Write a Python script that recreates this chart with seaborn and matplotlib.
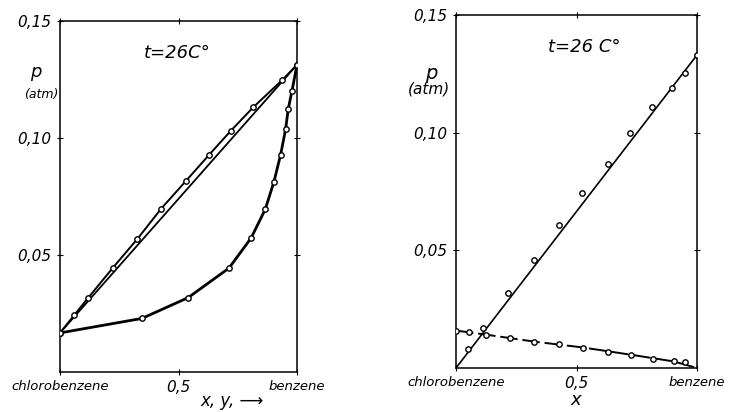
import numpy as np
import pandas as pd
import matplotlib
matplotlib.use('Agg')
import matplotlib.pyplot as plt
import seaborn as sns

# left panel: total vapour pressure, liquid (x) and vapour (y) composition
liquid_x = [0.0, 0.059, 0.119, 0.222, 0.326, 0.427, 0.530, 0.629, 0.720, 0.816, 0.937, 1.0]
liquid_p = [0.0167, 0.0242, 0.0317, 0.0444, 0.0568, 0.0698, 0.0815, 0.0928, 0.1030, 0.1132, 0.1247, 0.1313]
vapour_y = [0.0, 0.346, 0.541, 0.713, 0.806, 0.866, 0.903, 0.931, 0.952, 0.963, 0.979, 1.0]
vapour_p = [0.0167, 0.0229, 0.0318, 0.0444, 0.0572, 0.0695, 0.0814, 0.0929, 0.1038, 0.1124, 0.1202, 0.1313]
raoult_x = [0.0, 1.0]
raoult_p = [0.0167, 0.1313]

# right panel: partial pressures
benzene_x = [0.050, 0.112, 0.216, 0.323, 0.427, 0.523, 0.630, 0.724, 0.813, 0.897, 0.949, 1.0]
benzene_p = [0.0081, 0.0170, 0.0317, 0.0461, 0.0606, 0.0742, 0.0868, 0.1000, 0.1110, 0.1189, 0.1255, 0.1329]
benzene_line_x = [0.0, 1.0]
benzene_line_p = [0.0, 0.133]
chloro_x = [0.0, 0.053, 0.123, 0.224, 0.325, 0.429, 0.528, 0.630, 0.728, 0.817, 0.903, 0.951]
chloro_p = [0.0159, 0.0152, 0.0142, 0.0129, 0.0112, 0.0102, 0.0087, 0.0070, 0.0056, 0.0040, 0.0028, 0.0024]
chloro_line_x = [0.0, 0.123, 0.325, 0.528, 0.728, 0.903, 1.0]
chloro_line_p = [0.0159, 0.0142, 0.0112, 0.0087, 0.0056, 0.0028, 0.0]

x_ticks = [0.0, 0.5, 1.0]
x_ticklabels = ['chlorobenzene', '0,5', 'benzene']
y_ticks = [0.05, 0.10, 0.15]
y_ticklabels = ['0,05', '0,10', '0,15']

sns.set_style('ticks')
plt.rcParams['font.family'] = ['DejaVu Sans']
plt.rcParams['font.style'] = 'italic'
plt.rcParams['text.color'] = 'black'
plt.rcParams['axes.labelcolor'] = 'black'
plt.rcParams['xtick.color'] = 'black'
plt.rcParams['ytick.color'] = 'black'

MARK = dict(s=15, facecolor='white', edgecolor='black', linewidth=1.0, zorder=4, legend=False)


def style_axes(ax):
    '''
    Common frame, limits and tick labels of both panels
    '''
    ax.set_xlim(0, 1)
    ax.set_ylim(0, 0.15)
    ax.set_xticks(x_ticks)
    ax.set_xticklabels(x_ticklabels)
    ax.set_yticks(y_ticks)
    ax.set_yticklabels(y_ticklabels, fontsize=11)
    for lab in ax.get_xticklabels():
        lab.set_fontsize(11 if lab.get_text() == '0,5' else 9.5)
    ax.tick_params(direction='inout', length=4, width=0.8, top=True, right=True,
                   colors='black', labelcolor='black', pad=4)
    for sp in ax.spines.values():
        sp.set_visible(True)
        sp.set_linewidth(1.1)
        sp.set_color('black')
    ax.set_ylabel('')


fig = plt.figure(figsize=(7.3, 4.12), dpi=100)
ax1 = fig.add_axes([60 / 730, 40 / 412, 237 / 730, 351 / 412])
ax2 = fig.add_axes([456 / 730, 44 / 412, 241 / 730, 353 / 412])

# left panel
sns.lineplot(x=raoult_x, y=raoult_p, ax=ax1, color='black', lw=1.3)
sns.lineplot(x=liquid_x, y=liquid_p, ax=ax1, color='black', lw=1.4)
sns.lineplot(x=vapour_y, y=vapour_p, ax=ax1, color='black', lw=2.0)
sns.scatterplot(x=liquid_x, y=liquid_p, ax=ax1, **MARK)
sns.scatterplot(x=vapour_y, y=vapour_p, ax=ax1, **MARK)
style_axes(ax1)
ax1.set_xlabel('x, y, \u27f6', fontsize=12)
ax1.xaxis.set_label_coords(0.725, -0.083)
ax1.xaxis.label.set_verticalalignment('center')
ax1.text(0.496, 0.909, 't=26C°', transform=ax1.transAxes, ha='center', va='center', fontsize=13)
ax1.text(-0.104, 0.855, 'p', transform=ax1.transAxes, ha='center', va='center', fontsize=13)
ax1.text(-0.08, 0.792, '(atm)', transform=ax1.transAxes, ha='center', va='center', fontsize=9)

# right panel
sns.lineplot(x=benzene_line_x, y=benzene_line_p, ax=ax2, color='black', lw=1.2)
sns.lineplot(x=chloro_line_x, y=chloro_line_p, ax=ax2, color='black', lw=1.4, dashes=False)
ax2.lines[-1].set_dashes([9, 2.5])
sns.scatterplot(x=benzene_x, y=benzene_p, ax=ax2, **MARK)
sns.scatterplot(x=chloro_x, y=chloro_p, ax=ax2, **MARK)
style_axes(ax2)
ax2.set_xlabel('x', fontsize=13)
ax2.xaxis.set_label_coords(0.498, -0.092)
ax2.xaxis.label.set_verticalalignment('center')
ax2.text(0.531, 0.909, 't=26 C°', transform=ax2.transAxes, ha='center', va='center', fontsize=13)
ax2.text(-0.104, 0.835, 'p', transform=ax2.transAxes, ha='center', va='center', fontsize=14)
ax2.text(-0.112, 0.79, '(atm)', transform=ax2.transAxes, ha='center', va='center', fontsize=11)

fig.savefig('out.png', dpi=100)
